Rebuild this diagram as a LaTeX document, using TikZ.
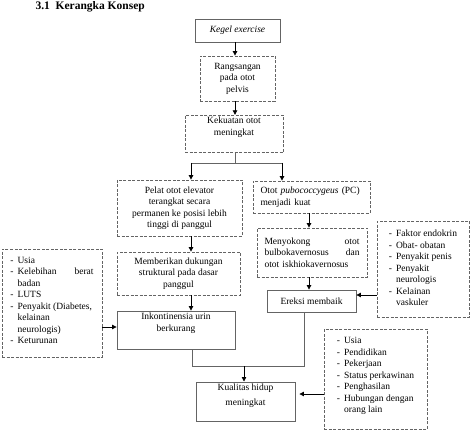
\documentclass[tikz,border=0pt]{standalone}
\usepackage{fontspec}
\setmainfont{Liberation Serif}
\usetikzlibrary{arrows.meta}
\definecolor{garis}{RGB}{100,100,100}
\newcommand{\daftar}[1]{\begin{tabular}{@{}l@{\hspace{4pt}}l@{}}#1\end{tabular}}
\tikzset{
  kotak/.style={draw=garis, line width=0.9pt, minimum width=#1, inner sep=2pt, align=center},
  kotakputus/.style={kotak=#1, dash pattern=on 3pt off 1.5pt, line width=0.8pt},
  panah/.style={-{Triangle[length=4.5pt,width=4.5pt]}, black, line width=0.8pt},
  garishubung/.style={draw=garis, line width=0.9pt}
}
\begin{document}
\begin{tikzpicture}[x=1pt,y=-1pt,font=\fontsize{9.5}{11.5}\selectfont]
\useasboundingbox (0,0) rectangle (470,443);
\node[anchor=base west, font=\fontsize{11.5}{13}\selectfont\bfseries] (judul) at (32,10) {3.1\ \ Kerangka Konsep};
\node[kotak=85pt, minimum height=23pt] (kegel) at (237.5,30.5) {\textit{Kegel exercise}};
\node[kotakputus=75pt, minimum height=45pt] (rang) at (237.5,78.5) {Rangsangan\\pada otot\\pelvis};
\node[kotakputus=98pt, minimum height=36pt] (kek) at (234,134) {Kekuatan otot\\meningkat\\[4pt]};
\node[kotakputus=125pt, minimum height=56pt] (pelat) at (179.5,208) {Pelat otot elevator\\terangkat secara\\permanen ke posisi lebih\\tinggi di panggul};
\node[kotakputus=123pt, minimum height=43pt] (beri) at (178.5,273.5) {Memberikan dukungan\\struktural pada dasar\\panggul};
\node[kotak=118pt, minimum height=38pt] (inko) at (176,330) {Inkontinensia urin\\berkurang\\[4pt]};
\node[kotakputus=100pt, minimum height=108pt] (risk1) at (52,303) {\daftar{- & Usia\\ - & \makebox[76pt][l]{Kelebihan\hfill berat}\\ & badan\\ - & LUTS\\ - & Penyakit (Diabetes,\\ & kelainan\\ & neurologis)\\ - & Keturunan\\[4pt]}};
\node[kotakputus=117pt, minimum height=32pt, text width=102pt, align=left] (pubo) at (311.5,197) {Otot \textit{pubococcygeus} (PC)\\menjadi kuat};
\node[kotakputus=110pt, minimum height=49pt, text width=95pt, align=left] (nyokong) at (312,252.5) {Menyokong\hfill otot\\bulbokavernosus\hfill dan\\otot iskhiokavernosus};
\node[kotak=89pt, minimum height=22pt] (ereksi) at (311.5,301) {Ereksi membaik};
\node[kotakputus=92pt, minimum height=96pt] (risk2) at (423,269) {\daftar{- & Faktor endokrin\\ - & Obat- obatan\\ - & Penyakit penis\\ - & Penyakit\\ & neurologis\\ - & Kelainan\\ & vaskuler}};
\node[kotak=99pt, minimum height=39pt] (kual) at (245.5,401.5) {Kualitas hidup\\[3.5pt]meningkat\\[2pt]};
\node[kotakputus=103pt, minimum height=100pt] (risk3) at (375.5,379) {\daftar{- & Usia\\ - & Pendidikan\\ - & Pekerjaan\\ - & Status perkawinan\\ - & Penghasilan\\ - & Hubungan dengan\\ & orang lain\\[6pt]}};
\coordinate (sL) at (191,163);
\coordinate (sR) at (282,163);
\coordinate (jL) at (192,366);
\coordinate (jM) at (244,366);
\coordinate (jR) at (304,366);
\draw[panah] (kegel.south -| 235,0) -- (rang.north -| 235,0);
\draw[panah] (rang.south -| 235,0) -- (kek.north -| 235,0);
\draw[garishubung] (kek.south -| 235,0) -- (235,163);
\draw[garishubung] (sL) -- (sR);
\draw[panah] (sL) -- (sL |- pelat.north);
\draw[panah] (sR) -- (sR |- pubo.north);
\draw[panah] (sL |- pelat.south) -- (sL |- beri.north);
\draw[panah] (sL |- beri.south) -- (sL |- inko.north);
\draw[panah] (risk1.east |- 0,327) -- (inko.west |- 0,327);
\draw[panah] (309,0 |- pubo.south) -- (309,0 |- nyokong.north);
\draw[panah] (309,0 |- nyokong.south) -- (309,0 |- ereksi.north);
\draw[panah] (risk2.west |- 0,295) -- (ereksi.east |- 0,295);
\draw[garishubung] (jL |- inko.south) -- (jL) -- (jR) -- (jR |- ereksi.south);
\draw[panah] (jM) -- (jM |- kual.north);
\draw[panah, shorten >=4pt] (risk3.west |- 0,394) -- (kual.east |- 0,394);
\end{tikzpicture}
\end{document}
